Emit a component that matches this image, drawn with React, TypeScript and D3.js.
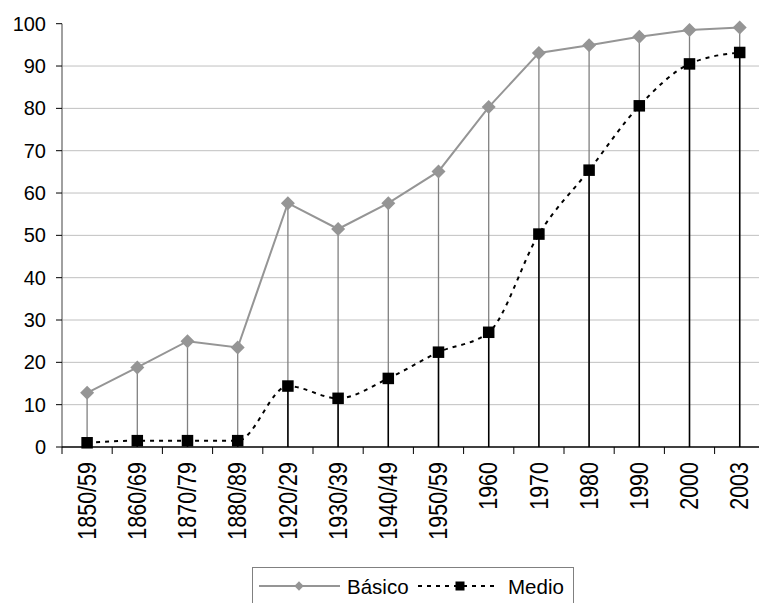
import React from "react";
import * as d3 from "d3";

const categories = [
  "1850/59", "1860/69", "1870/79", "1880/89", "1920/29", "1930/39", "1940/49",
  "1950/59", "1960", "1970", "1980", "1990", "2000", "2003",
];
const basico = [12.8, 18.8, 25.0, 23.5, 57.6, 51.5, 57.6, 65.1, 80.3, 93.1, 94.9, 96.9, 98.5, 99.1];
const medio = [1.0, 1.5, 1.5, 1.5, 14.4, 11.5, 16.2, 22.4, 27.1, 50.3, 65.4, 80.6, 90.5, 93.2];
const yTicks = [0, 10, 20, 30, 40, 50, 60, 70, 80, 90, 100];

const W = 759;
const H = 603;
const left = 62;
const bandW = 50.2;
const top = 23.7;
const bottom = 447;
const FONT = "'Liberation Sans', Arial, sans-serif";

export default function App() {
  const x = d3
    .scaleBand<string>()
    .domain(categories)
    .range([left, left + bandW * categories.length]);
  const y = d3.scaleLinear().domain([0, 100]).range([bottom, top]);
  const cx = (c: string) => (x(c) as number) + x.bandwidth() / 2;

  const basicoLine = d3
    .line<number>()
    .x((_, i) => cx(categories[i]))
    .y((d) => y(d))(basico) as string;
  const medioLine = d3
    .line<number>()
    .x((_, i) => cx(categories[i]))
    .y((d) => y(d))
    .curve(d3.curveMonotoneX)(medio) as string;

  const diamond = d3.symbol().type(d3.symbolDiamond2).size(125)() as string;
  const legendDiamond = d3.symbol().type(d3.symbolDiamond2).size(55)() as string;
  const boundaries = categories.map((c) => x(c) as number).concat([x.range()[1]]);
  const sq = 11.5;

  return (
    <svg
      width={W}
      height={H}
      style={{ position: "absolute", left: 0, top: 0, background: "#fff" }}
      fontFamily={FONT}
    >
      {/* horizontal gridlines */}
      {yTicks
        .filter((t) => t > 0 && t < 100)
        .map((t) => (
          <line key={t} x1={left} x2={W} y1={y(t)} y2={y(t)} stroke="#c0c0c0" strokeWidth={1} />
        ))}

      {/* drop lines */}
      {basico.map((v, i) => (
        <line
          key={"db" + i}
          x1={cx(categories[i])}
          x2={cx(categories[i])}
          y1={y(v)}
          y2={bottom}
          stroke="#808080"
          strokeWidth={1.3}
        />
      ))}
      {medio.map((v, i) => (
        <line
          key={"dm" + i}
          x1={cx(categories[i])}
          x2={cx(categories[i])}
          y1={y(v)}
          y2={bottom}
          stroke="#000"
          strokeWidth={1.5}
        />
      ))}

      {/* axes */}
      <line x1={left} x2={left} y1={top} y2={bottom} stroke="#808080" strokeWidth={1.5} />
      <line x1={left} x2={W} y1={bottom} y2={bottom} stroke="#000" strokeWidth={1.5} />
      {yTicks.map((t) => (
        <g key={"yt" + t}>
          <line x1={left - 6} x2={left} y1={y(t)} y2={y(t)} stroke="#000" strokeWidth={1} />
          <text
            x={left - 16}
            y={y(t)}
            textAnchor="end"
            dominantBaseline="central"
            fontSize={20}
            fill="#000"
          >
            {t}
          </text>
        </g>
      ))}
      {boundaries.map((b, i) => (
        <line key={"xt" + i} x1={b} x2={b} y1={bottom} y2={bottom + 7} stroke="#000" strokeWidth={1} />
      ))}
      {categories.map((c) => (
        <text
          key={"xl" + c}
          transform={`translate(${cx(c)},${bottom + 15}) rotate(-90) scale(1,1.18)`}
          textAnchor="end"
          dominantBaseline="central"
          fontSize={21.5}
          fill="#000"
        >
          {c}
        </text>
      ))}

      {/* series */}
      <path d={basicoLine} fill="none" stroke="#959595" strokeWidth={2} />
      <path d={medioLine} fill="none" stroke="#000" strokeWidth={2} strokeDasharray="4,5" />
      {basico.map((v, i) => (
        <path
          key={"mb" + i}
          d={diamond}
          transform={`translate(${cx(categories[i])},${y(v)})`}
          fill="#959595"
        />
      ))}
      {medio.map((v, i) => (
        <rect
          key={"mm" + i}
          x={cx(categories[i]) - sq / 2}
          y={y(v) - sq / 2}
          width={sq}
          height={sq}
          fill="#000"
        />
      ))}

      {/* legend */}
      <rect x={252.5} y={567.5} width={321} height={50} fill="#fff" stroke="#808080" strokeWidth={1} />
      <line x1={259} x2={340} y1={586} y2={586} stroke="#959595" strokeWidth={2} />
      <path d={legendDiamond} transform="translate(299,586)" fill="#959595" />
      <text x={347} y={586} dominantBaseline="central" fontSize={20.5} fill="#000">
        Básico
      </text>
      <line x1={418} x2={497} y1={586} y2={586} stroke="#000" strokeWidth={2} strokeDasharray="4,5" />
      <rect x={455.5} y={581.5} width={9} height={9} fill="#000" />
      <text x={508} y={586} dominantBaseline="central" fontSize={20.5} fill="#000">
        Medio
      </text>
    </svg>
  );
}
